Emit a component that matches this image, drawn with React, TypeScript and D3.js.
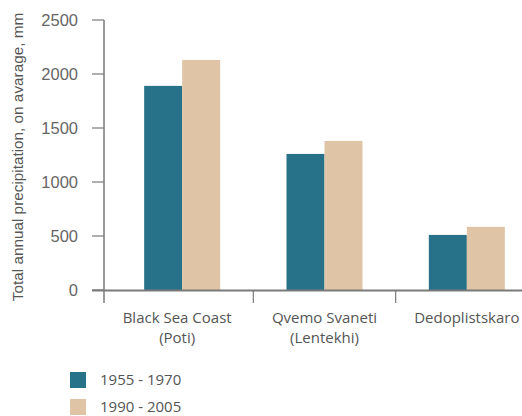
import React from "react";
import * as d3 from "d3";

const categories: string[][] = [
  ["Black Sea Coast", "(Poti)"],
  ["Qvemo Svaneti", "(Lentekhi)"],
  ["Dedoplistskaro"],
];
const catKeys = ["Black Sea Coast", "Qvemo Svaneti", "Dedoplistskaro"];
const seriesNames = ["1955 - 1970", "1990 - 2005"];
const series1955 = [1890, 1260, 510];
const series1990 = [2130, 1380, 585];
const yTicks = [0, 500, 1000, 1500, 2000, 2500];
const colors = ["#277189", "#dfc5a5"];

export default function App() {
  const W = 522;
  const H = 416;
  const axisX = 104;
  const axisY = 290.5;
  const y = d3.scaleLinear().domain([0, 2500]).range([290, 20]);
  const x0 = d3.scaleBand<string>().domain(catKeys).range([111, 538]).padding(0);
  const barW = 38;
  const x1 = d3.scaleBand<string>().domain(seriesNames).range([-barW, barW]).padding(0);
  const values = [series1955, series1990];
  const textColor = "#555";

  return (
    <svg
      width={W}
      height={H}
      style={{ position: "absolute", left: 0, top: 0, background: "#fff" }}
    >
      {catKeys.map((c, i) => {
        const cx = (x0(c) as number) + x0.bandwidth() / 2;
        return seriesNames.map((s, j) => (
          <rect
            key={c + s}
            x={cx + (x1(s) as number)}
            y={y(values[j][i])}
            width={x1.bandwidth()}
            height={290 - y(values[j][i])}
            fill={colors[j]}
          />
        ));
      })}
      <line x1={axisX} x2={axisX} y1={20} y2={303} stroke="#7a7a7a" strokeWidth={1.5} />
      {yTicks.map((t) => (
        <g key={t}>
          <line x1={92} x2={axisX} y1={y(t)} y2={y(t)} stroke="#7a7a7a" strokeWidth={1.2} />
          <text
            x={78}
            y={y(t)}
            dy="0.35em"
            textAnchor="end"
            fontFamily="Liberation Sans, Arial, sans-serif"
            fontSize={16.5}
            fill="#666"
          >
            {t}
          </text>
        </g>
      ))}
      <line x1={92} x2={W} y1={axisY} y2={axisY} stroke="#7a7a7a" strokeWidth={2} />
      {catKeys.slice(1).map((c) => (
        <line
          key={"t" + c}
          x1={x0(c) as number}
          x2={x0(c) as number}
          y1={axisY}
          y2={303}
          stroke="#7a7a7a"
          strokeWidth={1.2}
        />
      ))}
      {categories.map((lines, i) => {
        const c = catKeys[i];
        const cx = (x0(c) as number) + x0.bandwidth() / 2 - (i === 0 ? 5 : 0);
        return (
          <text
            key={"l" + c}
            x={cx}
            y={323}
            textAnchor="middle"
            fontFamily="Open Sans, sans-serif"
            fontSize={15}
            fill={textColor}
          >
            {lines.map((ln, k) => (
              <tspan key={k} x={cx} dy={k === 0 ? 0 : 20}>
                {ln}
              </tspan>
            ))}
          </text>
        );
      })}
      <text
        transform={`translate(23,157) rotate(-90)`}
        textAnchor="middle"
        fontFamily="Liberation Sans, Arial, sans-serif"
        fontSize={15.3}
        fill={textColor}
      >
        Total annual precipitation, on avarage, mm
      </text>
      {seriesNames.map((s, j) => (
        <g key={"lg" + s}>
          <rect x={70} y={372 + j * 27} width={16} height={16} fill={colors[j]} />
          <text
            x={100}
            y={380 + j * 27}
            dy="0.35em"
            fontFamily="Open Sans, sans-serif"
            fontSize={15}
            fill={textColor}
          >
            {s}
          </text>
        </g>
      ))}
    </svg>
  );
}
